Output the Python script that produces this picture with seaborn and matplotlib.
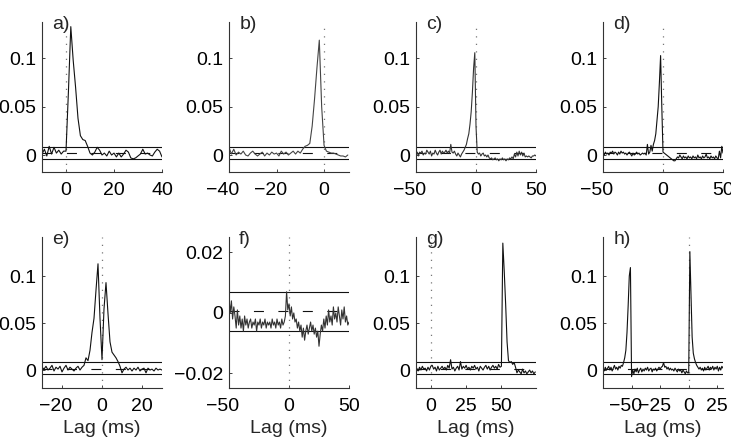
import numpy as np
import matplotlib
matplotlib.use("Agg")
import matplotlib.pyplot as plt
import matplotlib.transforms as mtransforms
from matplotlib.ticker import FuncFormatter
import seaborn as sns

# lags (ms) for each panel
lag_a = list(range(-10, 41))
lag_b = list(range(-40, 11))
lag_c = list(range(-50, 51))
lag_d = list(range(-50, 51))
lag_e = list(range(-30, 31))
lag_f = list(range(-50, 51))
lag_g = list(range(-10, 75))
lag_h = list(range(-75, 31))

# cross-correlation values
val_a = [0.001, 0.006, -0.001, 0.009, 0.001, 0.008, 0.002, 0.005, 0.001, 0.004,
         0.004, 0.065, 0.133, 0.098, 0.070, 0.038, 0.020, 0.016, 0.015, 0.009,
         0.002, 0.000, 0.003, 0.008, 0.005, 0.000, 0.002, -0.001, 0.004, 0.000,
         0.002, -0.002, 0.002, -0.002, 0.001, 0.005, 0.003, -0.003, -0.004, -0.003,
         -0.001, 0.001, 0.006, 0.001, 0.002, 0.000, -0.001, 0.003, 0.006, 0.004,
         -0.002]
val_b = [0.008, 0.001, 0.006, 0.000, 0.003, 0.001, 0.004, 0.000, -0.001, 0.002,
         0.004, 0.001, -0.001, 0.001, 0.003, -0.001, 0.002, 0.000, 0.003, 0.001,
         0.002, -0.001, 0.004, 0.001, 0.003, 0.000, 0.002, 0.004, 0.001, 0.004,
         0.002, 0.006, 0.009, 0.010, 0.012, 0.030, 0.058, 0.090, 0.119, 0.050,
         0.010, 0.004, 0.003, 0.002, 0.002, 0.001, 0.000, -0.001, -0.001, -0.002,
         0.000]
val_c = [0.002, 0.003, -0.001, 0.003, 0.002, 0.004, 0.000, 0.002, 0.001, 0.005,
         0.003, 0.001, 0.004, -0.001, 0.002, 0.001, 0.005, 0.002, 0.000, 0.003,
         0.005, 0.001, 0.004, 0.002, 0.003, 0.005, 0.002, 0.004, 0.002, 0.011,
         0.003, 0.002, 0.004, 0.001, -0.001, 0.002, 0.000, -0.002, 0.001, 0.003,
         0.005, 0.008, 0.011, 0.017, 0.022, 0.032, 0.045, 0.065, 0.090, 0.106,
         0.030, 0.003, 0.001, 0.002, -0.001, 0.001, 0.002, -0.001, 0.000, -0.002,
         0.000, -0.003, -0.004, -0.003, -0.005, -0.004, -0.003, -0.005, -0.004, -0.006,
         -0.004, -0.005, -0.003, -0.005, -0.004, -0.006, -0.004, -0.005, -0.003, -0.004,
         -0.002, -0.004, 0.001, -0.002, 0.003, -0.001, 0.004, 0.000, 0.003, -0.001,
         0.002, -0.002, -0.001, -0.002, -0.001, -0.002, -0.003, -0.001, -0.001, 0.000,
         -0.001]
val_d = [0.002, 0.000, 0.003, 0.001, 0.002, 0.000, 0.003, 0.002, 0.004, 0.001,
         0.003, 0.002, 0.000, 0.003, 0.001, 0.004, 0.002, 0.003, 0.001, 0.002,
         0.000, 0.002, 0.003, 0.001, -0.001, 0.002, 0.000, 0.001, 0.003, 0.001,
         0.002, 0.000, 0.001, 0.002, 0.001, 0.002, 0.000, 0.011, 0.001, 0.003,
         0.010, 0.004, 0.011, 0.015, 0.022, 0.036, 0.050, 0.075, 0.103, 0.050,
         0.003, 0.002, 0.001, 0.000, -0.001, -0.002, -0.003, -0.004, -0.005, -0.006,
         -0.006, -0.004, -0.002, -0.003, 0.000, -0.002, -0.004, -0.001, -0.003, -0.002,
         -0.004, -0.001, -0.003, -0.002, -0.004, -0.001, -0.003, -0.002, -0.004, 0.000,
         -0.003, -0.002, -0.004, -0.001, -0.003, -0.002, 0.001, -0.003, -0.002, -0.004,
         -0.001, -0.003, -0.002, -0.004, -0.001, -0.003, -0.004, 0.004, -0.003, 0.009,
         0.002]
val_e = [0.003, 0.001, 0.004, 0.000, 0.002, 0.005, -0.001, 0.003, 0.001, 0.004,
         -0.002, 0.002, 0.005, 0.000, 0.003, 0.001, -0.001, 0.002, 0.004, 0.000,
         0.003, 0.005, 0.013, 0.010, 0.021, 0.040, 0.055, 0.085, 0.113, 0.055,
         0.011, 0.065, 0.093, 0.060, 0.030, 0.019, 0.016, 0.013, 0.009, 0.004,
         -0.003, 0.001, 0.003, 0.000, 0.002, -0.001, 0.002, 0.000, 0.003, -0.001,
         0.001, 0.002, -0.003, 0.002, 0.000, 0.001, -0.001, 0.002, 0.000, 0.001,
         0.000]
val_f = [0.005, 0.000, 0.004, -0.002, 0.002, -0.001, -0.005, 0.001, -0.004, -0.001,
         -0.005, -0.002, -0.006, -0.001, -0.004, -0.002, -0.005, -0.003, -0.002, -0.005,
         -0.003, -0.004, -0.002, -0.006, -0.003, -0.004, -0.002, -0.005, -0.003, -0.004,
         -0.002, -0.005, -0.003, -0.004, -0.003, -0.005, -0.002, -0.004, -0.003, -0.005,
         -0.002, -0.004, -0.003, -0.005, -0.002, -0.004, -0.003, -0.001, 0.007, 0.001,
         0.003, -0.001, 0.002, -0.002, 0.000, -0.003, -0.002, -0.005, -0.003, -0.006,
         -0.004, -0.008, -0.005, -0.009, -0.006, -0.004, -0.007, -0.005, -0.003, -0.006,
         -0.004, -0.007, -0.005, -0.008, -0.006, -0.011, -0.007, -0.004, -0.006, -0.002,
         -0.005, -0.001, -0.004, 0.001, -0.003, -0.001, -0.004, 0.002, -0.002, 0.000,
         -0.003, 0.002, -0.001, -0.004, 0.001, -0.002, 0.002, -0.003, -0.001, -0.004,
         -0.003]
val_g = [0.002, -0.001, 0.003, 0.000, 0.004, 0.001, 0.002, -0.001, 0.003, 0.000,
         0.004, 0.005, 0.001, 0.003, -0.001, 0.004, 0.000, 0.002, 0.004, 0.001,
         0.003, 0.000, 0.005, 0.002, 0.011, 0.001, 0.003, -0.001, 0.002, 0.004,
         0.000, 0.009, 0.001, 0.004, 0.002, 0.005, 0.001, 0.003, 0.000, 0.004,
         0.002, 0.005, 0.001, 0.003, -0.001, 0.004, 0.002, 0.000, 0.003, 0.005,
         0.001, 0.004, 0.000, 0.003, 0.005, 0.002, 0.004, 0.001, 0.006, 0.003,
         0.004, 0.135, 0.105, 0.070, 0.030, 0.010, 0.008, 0.009, 0.006, 0.008,
         0.003, -0.003, 0.000, -0.002, -0.004, 0.001, -0.003, -0.001, -0.004, -0.002,
         0.000, -0.003, -0.001, -0.004, -0.002]
val_h = [0.002, -0.001, 0.003, 0.000, 0.002, 0.004, 0.000, 0.003, -0.001, 0.002,
         0.005, 0.001, 0.003, 0.000, 0.004, 0.002, 0.005, 0.004, 0.008, 0.013,
         0.021, 0.040, 0.068, 0.100, 0.109, -0.007, 0.000, -0.004, 0.001, -0.002,
         0.002, -0.003, 0.000, 0.002, -0.002, 0.001, -0.001, 0.002, 0.000, 0.003,
         -0.001, 0.001, 0.002, -0.002, 0.001, 0.000, 0.002, -0.001, 0.001, 0.003,
         0.001, 0.003, 0.004, 0.008, 0.003, 0.004, 0.001, 0.003, 0.000, 0.002,
         0.000, 0.001, -0.001, 0.002, 0.000, -0.002, 0.001, -0.001, 0.000, -0.003,
         0.000, -0.002, -0.004, -0.001, -0.003, -0.003, 0.126, 0.080, 0.035, 0.018,
         0.012, 0.008, 0.005, 0.003, 0.001, 0.003, 0.000, 0.002, -0.001, 0.003,
         0.000, 0.002, 0.004, 0.000, 0.003, 0.001, 0.004, 0.000, 0.003, 0.001,
         0.004, -0.001, 0.003, 0.000, 0.004, 0.002]

# significance band (upper, lower) and mean (dashed)
band_upper = [0.008, 0.008, 0.008, 0.008, 0.0082, 0.0069, 0.0082, 0.0082]
band_lower = [-0.0042, -0.0042, -0.0042, -0.0042, -0.0046, -0.006, -0.0046, -0.0046]
band_mean = [0.002, 0.002, 0.002, 0.002, 0.0015, 0.0007, 0.0015, 0.0015]

labels = ["a)", "b)", "c)", "d)", "e)", "f)", "g)", "h)"]
lags = [lag_a, lag_b, lag_c, lag_d, lag_e, lag_f, lag_g, lag_h]
vals = [val_a, val_b, val_c, val_d, val_e, val_f, val_g, val_h]
xlims = [(-10, 40), (-40, 10.5), (-50, 50), (-50, 50),
         (-30, 30), (-50, 50), (-10.5, 74.5), (-75, 30)]
xticks = [[0, 20, 40], [-40, -20, 0], [-50, 0, 50], [-50, 0, 50],
          [-20, 0, 20], [-50, 0, 50], [0, 25, 50], [-50, -25, 0, 25]]
ylims = [(-0.0176, 0.1378)] * 4 + [(-0.0191, 0.1415), (-0.0248, 0.0251),
                                   (-0.0191, 0.1415), (-0.0191, 0.1415)]
yticks = [[0, 0.05, 0.1]] * 5 + [[-0.02, 0, 0.02]] + [[0, 0.05, 0.1]] * 2
line_colors = ["#111111", "#444444", "#333333", "#111111",
               "#111111", "#333333", "#111111", "#111111"]

sns.set_style("ticks")
plt.rcParams["font.family"] = ["Liberation Sans", "DejaVu Sans"]
FS = 14

fig = plt.figure(figsize=(7.31, 4.46), dpi=100)
W, H = 731, 446
lefts = [42, 229, 416, 603]
rows = [(172, 150), (388, 151)]  # bottom pixel, height

fmt = FuncFormatter(lambda v, p: f"{v:g}".replace("-", "\u2212"))
axes = []

for i in range(8):
    r, c = divmod(i, 4)
    bot, hgt = rows[r]
    ax = fig.add_axes([lefts[c] / W, (H - bot) / H, 120 / W, hgt / H])
    axes.append(ax)

    ax.axvline(0, color="#777777", lw=0.9, ls=(0, (1, 5)), zorder=1)
    ax.axhline(band_upper[i], color="#111111", lw=0.8, zorder=1)
    ax.axhline(band_lower[i], color="#111111", lw=0.8, zorder=1)
    ax.axhline(band_mean[i], color="#111111", lw=0.8, ls=(0, (9, 13)), zorder=1)
    sns.lineplot(x=lags[i], y=vals[i], ax=ax, color=line_colors[i],
                 linewidth=0.8, estimator=None, zorder=2)

    ax.set_xlim(*xlims[i])
    ax.set_ylim(*ylims[i])
    ax.set_xticks(xticks[i])
    ax.set_yticks(yticks[i])
    ax.xaxis.set_major_formatter(fmt)
    ax.yaxis.set_major_formatter(fmt)
    ax.tick_params(direction="in", length=2, width=0.6, labelsize=FS,
                   colors="#222222", labelcolor="black")
    ax.tick_params(axis="x", pad=7)
    ax.tick_params(axis="y", pad=4)
    sns.despine(ax=ax)
    for s in ["left", "bottom"]:
        ax.spines[s].set_color("#333333")
        ax.spines[s].set_linewidth(0.8)

    ax.text(0.085, 0.985, labels[i], transform=ax.transAxes, fontsize=FS,
            ha="left", va="center")
    if r == 1:
        ax.set_xlabel("Lag (ms)", fontsize=FS, labelpad=4)
    else:
        ax.set_xlabel("")
    ax.set_ylabel("")

# negative x labels sit a little to the left of their ticks, as in the original
fig.canvas.draw()
shift = mtransforms.ScaledTranslation(-6 / 100, 0, fig.dpi_scale_trans)
for ax in axes:
    for lab in ax.get_xticklabels():
        if lab.get_text().startswith("\u2212"):
            lab.set_transform(lab.get_transform() + shift)

fig.savefig("out.png", dpi=100)
